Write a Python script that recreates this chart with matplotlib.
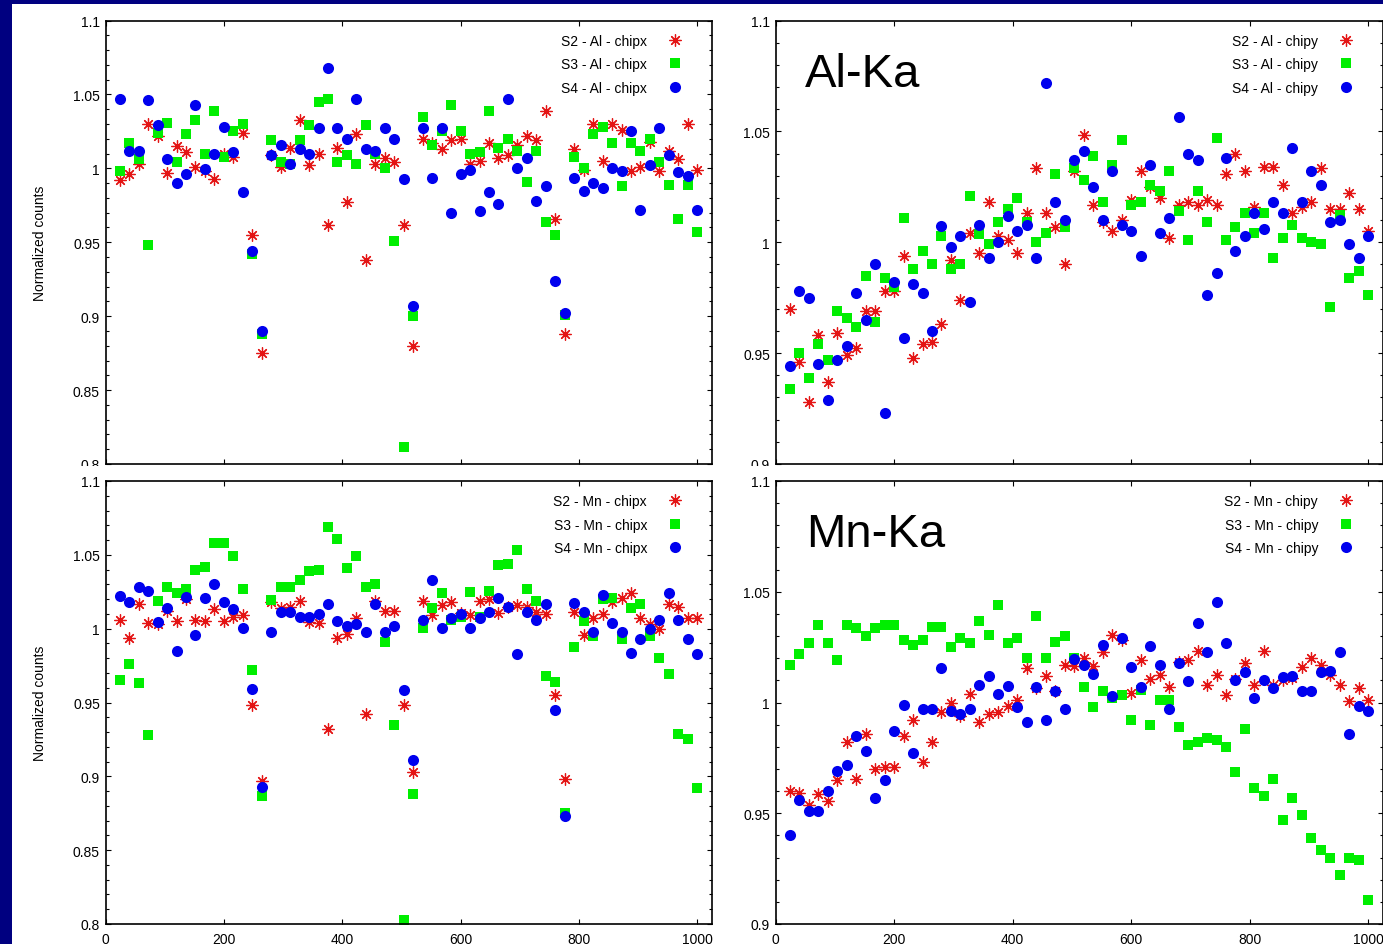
import numpy as np
import matplotlib
matplotlib.use("Agg")
import matplotlib.pyplot as plt
from matplotlib.patches import Rectangle
from matplotlib.ticker import MultipleLocator, FuncFormatter

plt.rcParams['font.family'] = ['Liberation Sans', 'DejaVu Sans']

# centres of the 16-pixel bins along the chip
pos = np.arange(24, 1016, 16)

# Al-Ka, binned along chip x
al_x_s2 = [0.992, 0.996, 1.003, 1.030, 1.022, 0.997, 1.015, 1.011, 1.001, 0.998,
           0.993, 1.010, 1.008, 1.024, 0.955, 0.875, 1.009, 1.001, 1.014, 1.033,
           1.002, 1.010, 0.962, 1.014, 0.977, 1.023, 0.938, 1.003, 1.007, 1.004,
           0.962, 0.880, 1.020, 1.017, 1.013, 1.019, 1.020, 1.003, 1.005, 1.017,
           1.007, 1.009, 1.016, 1.022, 1.019, 1.039, 0.966, 0.888, 1.013, 0.999,
           1.030, 1.005, 1.030, 1.026, 0.998, 1.001, 1.018, 0.998, 1.012, 1.006,
           1.030, 0.999]
al_x_s3 = [0.998, 1.017, 1.006, 0.948, 1.024, 1.031, 1.004, 1.023, 1.0325, 1.0095,
           1.0386, 1.008, 1.025, 1.030, 0.942, 0.888, 1.019, 1.004, 1.003, 1.019,
           1.0295, 1.045, 1.047, 1.004, 1.009, 1.003, 1.0295, 1.010, 1.000, 0.951,
           0.8115, 0.900, 1.035, 1.016, 1.025, 1.043, 1.025, 1.010, 1.011, 1.039,
           1.014, 1.020, 1.012, 0.991, 1.012, 0.9635, 0.955, 0.9006, 1.008, 1.000,
           1.023, 1.028, 1.017, 0.988, 1.017, 1.012, 1.020, 1.004, 0.9885, 0.966,
           0.989, 0.957]
al_x_s4 = [1.047, 1.012, 1.012, 1.046, 1.0295, 1.006, 0.990, 0.996, 1.043, 0.9995,
           1.010, 1.028, 1.011, 0.984, 0.944, 0.890, 1.009, 1.016, 1.003, 1.013,
           1.010, 1.027, 1.068, 1.027, 1.020, 1.047, 1.013, 1.012, 1.027, 1.020,
           0.993, 0.907, 1.027, 0.9935, 1.027, 0.970, 0.996, 0.999, 0.971, 0.984,
           0.976, 1.047, 1.0005, 1.007, 0.978, 0.988, 0.924, 0.902, 0.9935, 0.985,
           0.990, 0.987, 1.0005, 0.9985, 1.025, 0.972, 1.0025, 1.027, 1.009, 0.9975,
           0.995, 0.972]

# Al-Ka, binned along chip y
al_y_s2 = [0.970, 0.946, 0.928, 0.958, 0.937, 0.959, 0.949, 0.9525, 0.969, 0.969,
           0.978, 0.978, 0.994, 0.948, 0.954, 0.955, 0.963, 0.992, 0.974, 1.004,
           0.995, 1.018, 1.003, 1.001, 0.995, 1.013, 1.0335, 1.013, 1.007, 0.990,
           1.032, 1.0485, 1.017, 1.009, 1.005, 1.010, 1.019, 1.032, 1.025, 1.020,
           1.002, 1.017, 1.018, 1.017, 1.019, 1.017, 1.031, 1.040, 1.032, 1.016,
           1.034, 1.034, 1.026, 1.013, 1.016, 1.018, 1.0335, 1.015, 1.015, 1.022,
           1.015, 1.005]
al_y_s3 = [0.934, 0.950, 0.939, 0.954, 0.947, 0.969, 0.966, 0.962, 0.985, 0.964,
           0.984, 0.980, 1.011, 0.988, 0.996, 0.990, 1.003, 0.988, 0.990, 1.021,
           1.0035, 0.999, 1.009, 1.015, 1.020, 1.009, 1.000, 1.004, 1.031, 1.007,
           1.0335, 1.028, 1.039, 1.018, 1.035, 1.046, 1.017, 1.018, 1.026, 1.023,
           1.032, 1.014, 1.001, 1.023, 1.009, 1.047, 1.001, 1.007, 1.013, 1.004,
           1.013, 0.993, 1.002, 1.008, 1.002, 1.000, 0.999, 0.971, 1.0125, 0.984,
           0.987, 0.976]
al_y_s4 = [0.944, 0.978, 0.975, 0.945, 0.929, 0.947, 0.953, 0.977, 0.965, 0.990,
           0.923, 0.982, 0.957, 0.981, 0.977, 0.960, 1.0075, 0.998, 1.003, 0.973,
           1.008, 0.993, 1.000, 1.012, 1.005, 1.008, 0.993, 1.072, 1.018, 1.010,
           1.037, 1.041, 1.025, 1.010, 1.032, 1.008, 1.005, 0.994, 1.035, 1.004,
           1.011, 1.0565, 1.040, 1.037, 0.976, 0.986, 1.038, 0.996, 1.003, 1.013,
           1.006, 1.018, 1.013, 1.0425, 1.018, 1.032, 1.026, 1.009, 1.010, 0.999,
           0.993, 1.003]

# Mn-Ka, binned along chip x
mn_x_s2 = [1.006, 0.994, 1.0165, 1.0035, 1.003, 1.012, 1.005, 1.020, 1.006, 1.005,
           1.013, 1.005, 1.008, 1.009, 0.9486, 0.897, 1.018, 1.014, 1.015, 1.019,
           1.0045, 1.0035, 0.932, 0.994, 0.9966, 1.007, 0.9425, 1.019, 1.012, 1.012,
           0.948, 0.903, 1.019, 1.009, 1.016, 1.018, 1.0105, 1.009, 1.019, 1.020,
           1.0105, 1.015, 1.016, 1.015, 1.011, 1.010, 0.955, 0.898, 1.011, 0.996,
           1.007, 1.010, 1.018, 1.021, 1.024, 1.007, 1.003, 0.9995, 1.017, 1.015,
           1.007, 1.007]
mn_x_s3 = [0.9655, 0.976, 0.963, 0.928, 1.019, 1.028, 1.024, 1.027, 1.040, 1.042,
           1.058, 1.058, 1.049, 1.027, 0.972, 0.887, 1.0196, 1.028, 1.028, 1.033,
           1.039, 1.0395, 1.069, 1.061, 1.041, 1.049, 1.028, 1.030, 0.991, 0.935,
           0.803, 0.888, 1.0005, 1.014, 1.024, 1.006, 1.008, 1.025, 1.008, 1.0255,
           1.043, 1.044, 1.053, 1.027, 1.0185, 0.968, 0.964, 0.8755, 0.9876, 1.005,
           0.995, 1.020, 1.021, 0.993, 1.014, 1.0165, 0.995, 0.980, 0.969, 0.929,
           0.925, 0.892]
mn_x_s4 = [1.022, 1.018, 1.028, 1.0255, 1.0047, 1.014, 0.985, 1.0216, 0.996, 1.021,
           1.030, 1.018, 1.013, 1.0005, 0.959, 0.893, 0.998, 1.011, 1.011, 1.008,
           1.008, 1.010, 1.0165, 1.005, 1.002, 1.003, 0.9975, 1.017, 0.998, 1.0016,
           0.9587, 0.911, 1.006, 1.033, 1.0005, 1.007, 1.010, 1.0007, 1.007, 1.011,
           1.021, 1.015, 0.983, 1.011, 1.0056, 1.0165, 0.945, 0.873, 1.0176, 1.011,
           0.998, 1.023, 1.004, 0.998, 0.9835, 0.993, 1.000, 1.0056, 1.024, 1.0056,
           0.993, 0.983]

# Mn-Ka, binned along chip y
mn_y_s2 = [0.960, 0.959, 0.9536, 0.9587, 0.9554, 0.965, 0.982, 0.9655, 0.986, 0.970,
           0.971, 0.971, 0.985, 0.992, 0.973, 0.982, 0.9955, 1.000, 0.994, 1.004,
           0.991, 0.995, 0.9955, 0.9986, 1.001, 1.0155, 1.0065, 1.012, 1.005, 1.017,
           1.0165, 1.020, 1.0167, 1.023, 1.0305, 1.028, 1.0045, 1.019, 1.0105, 1.0125,
           1.007, 1.0185, 1.019, 1.0234, 1.008, 1.0125, 1.0035, 1.0105, 1.018, 1.008,
           1.0234, 1.008, 1.010, 1.011, 1.016, 1.020, 1.017, 1.0125, 1.008, 1.0005,
           1.0065, 1.001]
mn_y_s3 = [1.017, 1.022, 1.027, 1.035, 1.027, 1.019, 1.035, 1.0335, 1.030, 1.0335,
           1.035, 1.035, 1.028, 1.026, 1.028, 1.034, 1.034, 1.025, 1.029, 1.027,
           1.037, 1.0305, 1.044, 1.027, 1.029, 1.020, 1.039, 1.020, 1.0275, 1.030,
           1.020, 1.007, 0.998, 1.005, 1.002, 1.0035, 0.992, 1.0057, 0.990, 1.001,
           1.001, 0.989, 0.981, 0.982, 0.984, 0.983, 0.980, 0.9685, 0.988, 0.9614,
           0.958, 0.9656, 0.947, 0.957, 0.949, 0.939, 0.9336, 0.9296, 0.922, 0.930,
           0.929, 0.911]
mn_y_s4 = [0.940, 0.956, 0.951, 0.951, 0.960, 0.969, 0.972, 0.985, 0.978, 0.957,
           0.965, 0.987, 0.999, 0.977, 0.997, 0.997, 1.0155, 0.996, 0.995, 0.997,
           1.008, 1.012, 1.004, 1.0075, 0.998, 0.991, 1.007, 0.992, 1.005, 0.997,
           1.0195, 1.017, 1.013, 1.026, 1.003, 1.029, 1.016, 1.007, 1.0255, 1.017,
           0.997, 1.018, 1.0095, 1.036, 1.023, 1.0455, 1.027, 1.010, 1.0137, 1.002,
           1.010, 1.0065, 1.0117, 1.012, 1.005, 1.005, 1.0137, 1.014, 1.023, 0.986,
           0.9986, 0.996]

W, H = 1383, 945
NAVY = '#000080'


def add_panel(fig, box, zorder):
    # box is (left, top, right, bottom) in pixels from the top-left corner
    x0, y0, x1, y1 = box
    return fig.add_axes([x0 / W, 1 - y1 / H, (x1 - x0) / W, (y1 - y0) / H], zorder=zorder)


def plot_panel(ax, s2, s3, s4, elem, chip, ylim, show_x):
    ax.plot(pos, s2, linestyle='none', marker=(8, 2, 0), markersize=8.6,
            markeredgewidth=0.9, color='#e41414', label='S2 - %s - %s' % (elem, chip))
    ax.plot(pos, s3, linestyle='none', marker='s', markersize=7.4,
            markeredgewidth=0, color='#00ee00', label='S3 - %s - %s' % (elem, chip))
    ax.plot(pos, s4, linestyle='none', marker='o', markersize=8.0,
            markeredgewidth=0, color='#0000ee', label='S4 - %s - %s' % (elem, chip))

    ax.set_xlim(0, 1024)
    ax.set_ylim(*ylim)
    ax.xaxis.set_major_locator(MultipleLocator(200))
    ax.yaxis.set_major_locator(MultipleLocator(0.05))
    ax.yaxis.set_minor_locator(MultipleLocator(0.01))
    ax.yaxis.set_major_formatter(FuncFormatter(lambda v, p: '%g' % round(v, 4)))
    ax.tick_params(which='both', direction='in', top=True, right=True,
                   labelsize=10, width=0.8, colors='black')
    ax.tick_params(which='major', length=3.8)
    ax.tick_params(which='minor', length=2.4)
    ax.tick_params(axis='y', pad=4)
    ax.tick_params(axis='x', pad=6, labelbottom=show_x)
    for sp in ax.spines.values():
        sp.set_linewidth(1.2)

    ax.legend(loc='upper right', bbox_to_anchor=(0.951, 0.970), markerfirst=False,
              frameon=False, numpoints=1, handlelength=1.0, handletextpad=1.5,
              labelspacing=0.68, borderpad=0, borderaxespad=0, fontsize=10)


fig = plt.figure(figsize=(W / 100, H / 100), dpi=100)
fig.patch.set_facecolor('white')

ax_tl = add_panel(fig, (105.5, 21.5, 711.5, 465), 0)
ax_tr = add_panel(fig, (775.5, 21.5, 1382.5, 465), 0)
ax_bl = add_panel(fig, (105.5, 482, 711.5, 925), 2)
ax_br = add_panel(fig, (775.5, 482, 1382.5, 925), 2)

plot_panel(ax_tl, al_x_s2, al_x_s3, al_x_s4, 'Al', 'chipx', (0.8, 1.1), False)
plot_panel(ax_tr, al_y_s2, al_y_s3, al_y_s4, 'Al', 'chipy', (0.9, 1.1), False)
plot_panel(ax_bl, mn_x_s2, mn_x_s3, mn_x_s4, 'Mn', 'chipx', (0.8, 1.1), True)
plot_panel(ax_br, mn_y_s2, mn_y_s3, mn_y_s4, 'Mn', 'chipy', (0.9, 1.1), True)

ax_tr.text(0.049, 0.853, 'Al-Ka', transform=ax_tr.transAxes, fontsize=34,
           ha='left', va='baseline')
ax_br.text(0.051, 0.854, 'Mn-Ka', transform=ax_br.transAxes, fontsize=34,
           ha='left', va='baseline')

fig.text(40 / W, 1 - 243 / H, 'Normalized counts', rotation=90, ha='center',
         va='center', fontsize=10)
fig.text(40 / W, 1 - 703.5 / H, 'Normalized counts', rotation=90, ha='center',
         va='center', fontsize=10)

# lower row sits on its own white area, clipping the upper row's bottom labels
fig.add_artist(Rectangle((0, 0), 1, (H - 466.5) / H, transform=fig.transFigure,
                         facecolor='white', edgecolor='none', zorder=1))

# slide border
fig.add_artist(Rectangle((0, 0), 12 / W, 1, transform=fig.transFigure,
                         facecolor=NAVY, edgecolor='none', zorder=5))
fig.add_artist(Rectangle((0, 1 - 4.5 / H), 1, 4.5 / H, transform=fig.transFigure,
                         facecolor=NAVY, edgecolor='none', zorder=5))

fig.savefig('out.png', dpi=100)
